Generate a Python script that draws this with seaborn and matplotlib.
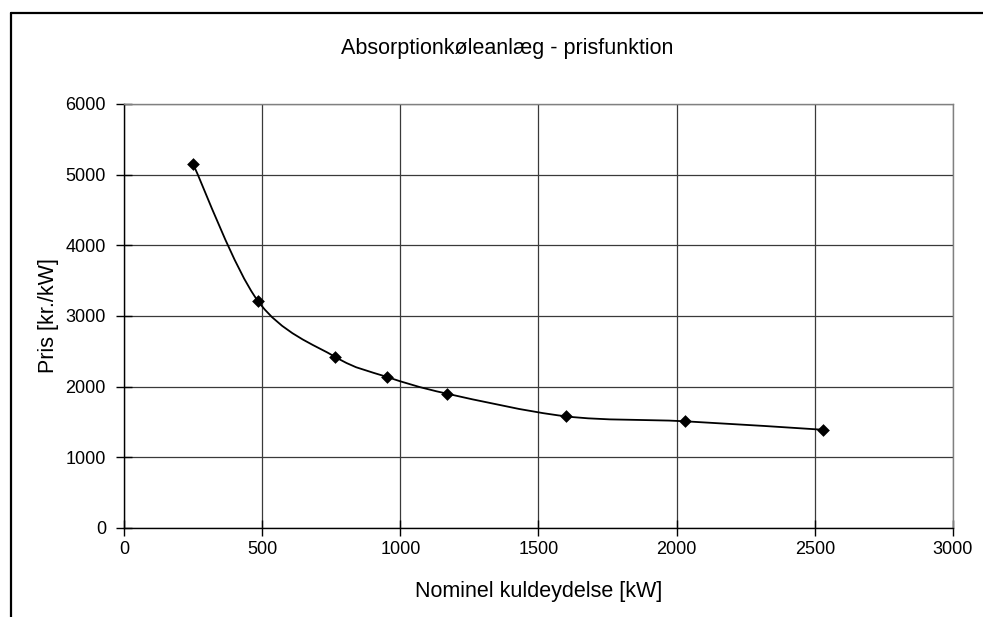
import numpy as np
import pandas as pd
import matplotlib
matplotlib.use("Agg")
import matplotlib.pyplot as plt
import seaborn as sns
from matplotlib.path import Path
from matplotlib.patches import PathPatch
from matplotlib.lines import Line2D

# ---- data ----
capacity_kw = [250, 485, 765, 950, 1170, 1600, 2030, 2530]
price_kr_per_kw = [5150, 3210, 2420, 2140, 1900, 1580, 1510, 1390]
x_ticks = [0, 500, 1000, 1500, 2000, 2500, 3000]
y_ticks = [0, 1000, 2000, 3000, 4000, 5000, 6000]
title = "Absorptionkøleanlæg - prisfunktion"
x_label = "Nominel kuldeydelse [kW]"
y_label = "Pris [kr./kW]"

df = pd.DataFrame({"kW": capacity_kw, "pris": price_kr_per_kw})

sns.set_theme(style="white")
plt.rcParams["font.family"] = ["Liberation Sans", "DejaVu Sans"]

W, H = 983, 617
fig = plt.figure(figsize=(W / 100, H / 100), dpi=100)
fig.patch.set_facecolor("white")

L, R, T, B = 124, 953, 104, 528
ax = fig.add_axes([L / W, 1 - B / H, (R - L) / W, (B - T) / H])
ax.set_facecolor("white")

# smooth (Excel-style) curve through the data points
px = np.array(df["kW"], dtype=float)
py = np.array(df["pris"], dtype=float)
pts = np.column_stack([px, py])
ext = np.vstack([pts[0], pts, pts[-1]])
verts = [tuple(pts[0])]
codes = [Path.MOVETO]
for i in range(len(pts) - 1):
    p0, p1, p2, p3 = ext[i], ext[i + 1], ext[i + 2], ext[i + 3]
    c1 = p1 + (p2 - p0) / 6.0
    c2 = p2 - (p3 - p1) / 6.0
    verts += [tuple(c1), tuple(c2), tuple(p2)]
    codes += [Path.CURVE4] * 3
ax.add_patch(PathPatch(Path(verts, codes), facecolor="none", edgecolor="black",
                       lw=1.3, zorder=3))

sns.scatterplot(data=df, x="kW", y="pris", marker="D", s=42, color="black",
                edgecolor="black", linewidth=0, ax=ax, zorder=4)

ax.set_xlim(0, 3000)
ax.set_ylim(0, 6000)
ax.set_xticks(x_ticks)
ax.set_yticks(y_ticks)
ax.set_xticklabels([str(v) for v in x_ticks])
ax.set_yticklabels([str(v) for v in y_ticks])
ax.grid(True, color="#3a3a3a", lw=0.9)
ax.set_axisbelow(True)

for s in ["top", "right"]:
    ax.spines[s].set_color("#808080")
    ax.spines[s].set_linewidth(1.0)
for s in ["left", "bottom"]:
    ax.spines[s].set_color("black")
    ax.spines[s].set_linewidth(1.0)

ax.tick_params(axis="both", which="major", direction="inout", length=11,
               width=1, color="black", labelsize=13, labelcolor="black",
               bottom=True, left=True)
ax.tick_params(axis="y", pad=7.5)
ax.tick_params(axis="x", pad=3.8)

ax.set_xlabel(x_label, fontsize=15.5, color="black")
ax.set_ylabel(y_label, fontsize=15.5, color="black")
ax.xaxis.set_label_coords(0.5, (B - 581) / (B - T))
ax.yaxis.set_label_coords((59 - L) / (R - L), 0.5)

fig.text(507 / W, 1 - 54 / H, title, ha="center", va="baseline",
         fontsize=15.5, color="black")

# outer chart frame (extends beyond the right/bottom of the image)
fx = 10.5 / W
fy = 1 - 12.5 / H
fig.add_artist(Line2D([fx, 1.01], [fy, fy], transform=fig.transFigure,
                      color="black", lw=1.6))
fig.add_artist(Line2D([fx, fx], [-0.01, fy], transform=fig.transFigure,
                      color="black", lw=1.6))

fig.savefig("out.png", dpi=100)
